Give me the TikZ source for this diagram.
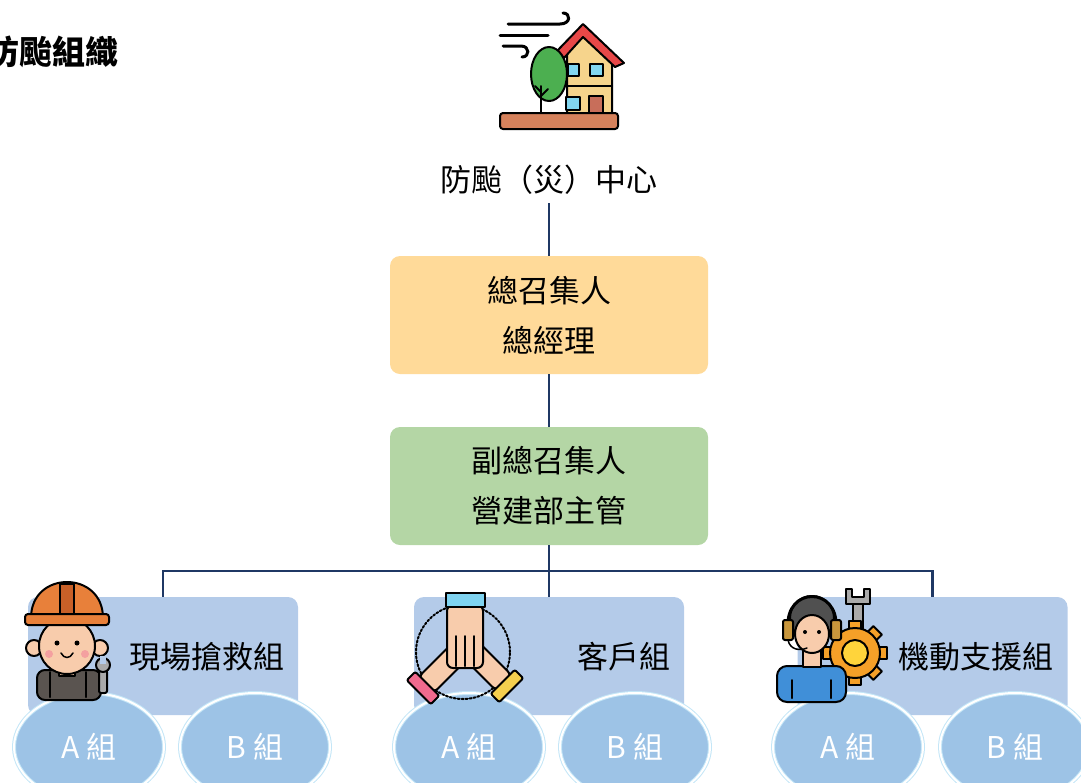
\documentclass[tikz,border=0pt]{standalone}
\usepackage{fontspec}
\newfontfamily\cjk{Noto Sans CJK TC}
\usetikzlibrary{shapes.geometric}

\definecolor{navy}{RGB}{31,56,100}
\definecolor{boxorange}{RGB}{255,218,153}
\definecolor{boxgreen}{RGB}{180,214,165}
\definecolor{boxblue}{RGB}{180,203,233}
\definecolor{ovalblue}{RGB}{157,195,230}
\definecolor{ovalrim}{RGB}{196,230,247}
\definecolor{wall}{RGB}{246,212,140}
\definecolor{roofred}{RGB}{232,72,72}
\definecolor{glass}{RGB}{130,214,240}
\definecolor{doorred}{RGB}{200,110,90}
\definecolor{leaf}{RGB}{76,175,80}
\definecolor{ground}{RGB}{214,130,92}
\definecolor{skin}{RGB}{248,204,172}
\definecolor{cheek}{RGB}{244,160,160}
\definecolor{helmet}{RGB}{232,128,58}
\definecolor{helmetdark}{RGB}{200,96,40}
\definecolor{overall}{RGB}{90,84,80}
\definecolor{metal}{RGB}{170,170,170}
\definecolor{cuffblue}{RGB}{127,211,240}
\definecolor{cuffpink}{RGB}{240,106,142}
\definecolor{cuffyellow}{RGB}{244,207,78}
\definecolor{gearorange}{RGB}{245,160,40}
\definecolor{gearyellow}{RGB}{255,212,59}
\definecolor{shirtblue}{RGB}{64,143,216}
\definecolor{hair}{RGB}{80,80,80}
\definecolor{cup}{RGB}{200,150,60}

\begin{document}
\begin{tikzpicture}[x=1pt,y=-1pt,
  conn/.style={draw=navy,line width=2.5pt},
  chief/.style={rectangle,rounded corners=10pt,minimum width=318pt,minimum height=118pt,
    inner sep=0pt,align=center,font=\cjk\fontsize{31}{50}\selectfont},
  teambox/.style={rectangle,rounded corners=10pt,fill=boxblue,minimum width=270pt,
    minimum height=118pt,inner sep=0pt},
  teamtext/.style={inner sep=0pt,font=\cjk\fontsize{31}{36}\selectfont},
  squad/.style={ellipse,fill=ovalblue,draw=ovalrim,double=white,double distance=2pt,
    line width=1pt,minimum width=150pt,minimum height=108pt,inner sep=0pt,
    text=white,font=\cjk\fontsize{30}{36}\selectfont},
  icon/.style={draw=black,line width=2pt,line join=round,line cap=round}]
\clip (0,0) rectangle (1081,782);

% heading
\node[anchor=east,inner sep=0pt,font=\cjk\bfseries\fontsize{33}{38}\selectfont] (title) at (119,52) {防颱組織};

% chain of command
\node[inner sep=0pt,minimum height=46pt,font=\cjk\fontsize{31}{36}\selectfont] (center) at (549,180) {防颱（災）中心};
\node[chief,fill=boxorange] (lead) at (549,315) {總召集人\\總經理};
\node[chief,fill=boxgreen] (deputy) at (549,486) {副總召集人\\營建部主管};

\node[teambox] (t1) at (163,656) {};
\node[teambox] (t2) at (549,656) {};
\node[teambox] (t3) at (932.5,656) {};

\coordinate (bar) at (549,571);
\draw[conn] (center.south) -- (lead.north);
\draw[conn] (lead.south) -- (deputy.north);
\draw[conn] (deputy.south) -- (t2.north);
\draw[conn] (t1.north) |- (bar) -| (t3.north);

\node[teamtext] (t1txt) at (207,657) {現場搶救組};
\node[teamtext] (t2txt) at (624,657) {客戶組};
\node[teamtext] (t3txt) at (976,657) {機動支援組};

% squads
\node[squad] (a1) at (89,747) {A 組};
\node[squad] (b1) at (255,747) {B 組};
\node[squad] (a2) at (469,747) {A 組};
\node[squad] (b2) at (635,747) {B 組};
\node[squad] (a3) at (848,747) {A 組};
\node[squad] (b3) at (1015,747) {B 組};

% house in the wind
\begin{scope}[icon]
  \draw[line width=3pt] (508,24) -- (560,24) .. controls (571,24) and (571,13) .. (563,13);
  \draw[line width=3pt] (500,35) -- (548,35);
  \draw[line width=3pt] (503,46) -- (521,46) .. controls (530,46) and (530,57) .. (522,57);
  \filldraw[fill=wall] (567,50) -- (586,32) -- (612,58) -- (612,116) -- (567,116) -- cycle;
  \filldraw[fill=roofred] (557,51) -- (583,24) -- (624,63) -- (615,67) -- (583,37) -- (564,58) -- cycle;
  \filldraw[fill=glass] (590,64) rectangle (603,76);
  \filldraw[fill=glass] (568,64) rectangle (579,76);
  \draw (567,86) -- (612,86);
  \filldraw[fill=glass] (566,97) rectangle (580,110);
  \filldraw[fill=doorred] (589,96) rectangle (603,116);
  \filldraw[fill=leaf] (549,74) ellipse [x radius=18pt,y radius=27pt];
  \draw (541,86) -- (541,120);
  \draw (541,96) -- (548,89);
  \draw (541,92) -- (535,86);
  \filldraw[fill=ground,rounded corners=3pt] (500,113) rectangle (618,129);
\end{scope}

% rescue worker
\begin{scope}[icon]
  \filldraw[fill=overall,rounded corners=8pt] (37,700) -- (37,670) -- (101,670) -- (101,700) -- cycle;
  \filldraw[fill=skin] (59,660) rectangle (75,676);
  \draw (50,672) -- (50,697);
  \draw (86,672) -- (86,697);
  \filldraw[fill=skin] (34,648) circle (8pt);
  \filldraw[fill=skin] (100,648) circle (8pt);
  \filldraw[fill=skin] (67,646) circle (28pt);
  \fill[cheek] (49,654) circle (4pt);
  \fill[cheek] (85,654) circle (4pt);
  \fill (57,643) circle (2.5pt);
  \fill (77,643) circle (2.5pt);
  \draw[line width=1.5pt] (61,653) .. controls (64,659) and (70,659) .. (73,653);
  \filldraw[fill=helmet] (31,618) .. controls (31,570) and (103,570) .. (103,618) -- cycle;
  \filldraw[fill=helmetdark] (60,584) -- (74,584) -- (74,618) -- (60,618) -- cycle;
  \filldraw[fill=helmet,rounded corners=3pt] (25,614) rectangle (109,625);
  \filldraw[fill=metal,rounded corners=2pt] (99,670) rectangle (107,693);
  \filldraw[fill=metal] (103,665) circle (7pt);
  \fill[boxblue] (100,656) rectangle (106,664);
\end{scope}

% joined hands
\begin{scope}[icon]
  \draw[dotted,line width=2pt] (463,652) circle (47pt);
  \begin{scope}[shift={(423,688)},rotate=45]
    \filldraw[fill=skin,rounded corners=6pt] (4,-11) rectangle (50,11);
    \filldraw[fill=cuffpink,rounded corners=2pt] (-6,-17) rectangle (6,17);
  \end{scope}
  \begin{scope}[shift={(507,686)},rotate=135]
    \filldraw[fill=skin,rounded corners=6pt] (4,-11) rectangle (50,11);
    \filldraw[fill=cuffyellow,rounded corners=2pt] (-6,-17) rectangle (6,17);
  \end{scope}
  \filldraw[fill=skin,rounded corners=6pt] (447,605) rectangle (483,668);
  \draw (456,636) -- (456,666);
  \draw (465,636) -- (465,666);
  \draw (474,636) -- (474,666);
  \filldraw[fill=cuffblue] (446,593) rectangle (485,607);
\end{scope}

% support technician
\begin{scope}[icon]
  \filldraw[fill=metal] (853,598) rectangle (863,632);
  \filldraw[fill=metal] (846,589) -- (846,604) -- (870,604) -- (870,589) -- (864,589)
    -- (864,597) -- (852,597) -- (852,589) -- cycle;
  \foreach \a in {0,45,...,315}
    \filldraw[fill=gearorange,rotate around={\a:(855,653)}] (849,621) rectangle (861,632);
  \filldraw[fill=gearorange] (855,653) circle (25pt);
  \filldraw[fill=gearyellow] (855,653) circle (13pt);
  \filldraw[fill=shirtblue,rounded corners=10pt] (777,702) -- (777,666) -- (846,666) -- (846,702) -- cycle;
  \draw (792,680) -- (792,698);
  \draw (831,680) -- (831,698);
  \filldraw[fill=skin] (803,648) rectangle (821,667);
  \filldraw[fill=hair] (812,618) circle (22pt);
  \filldraw[fill=skin] (812,634) ellipse [x radius=17pt,y radius=19pt];
  \fill (805,632) circle (2pt);
  \fill (819,632) circle (2pt);
  \draw[line width=3pt] (788,628) .. controls (785,586) and (839,586) .. (836,628);
  \filldraw[fill=cup,rounded corners=2pt] (783,620) rectangle (793,640);
  \filldraw[fill=cup,rounded corners=2pt] (831,620) rectangle (841,640);
  \draw[line width=1.5pt] (788,640) .. controls (790,650) and (800,651) .. (807,648);
\end{scope}
\end{tikzpicture}
\end{document}
